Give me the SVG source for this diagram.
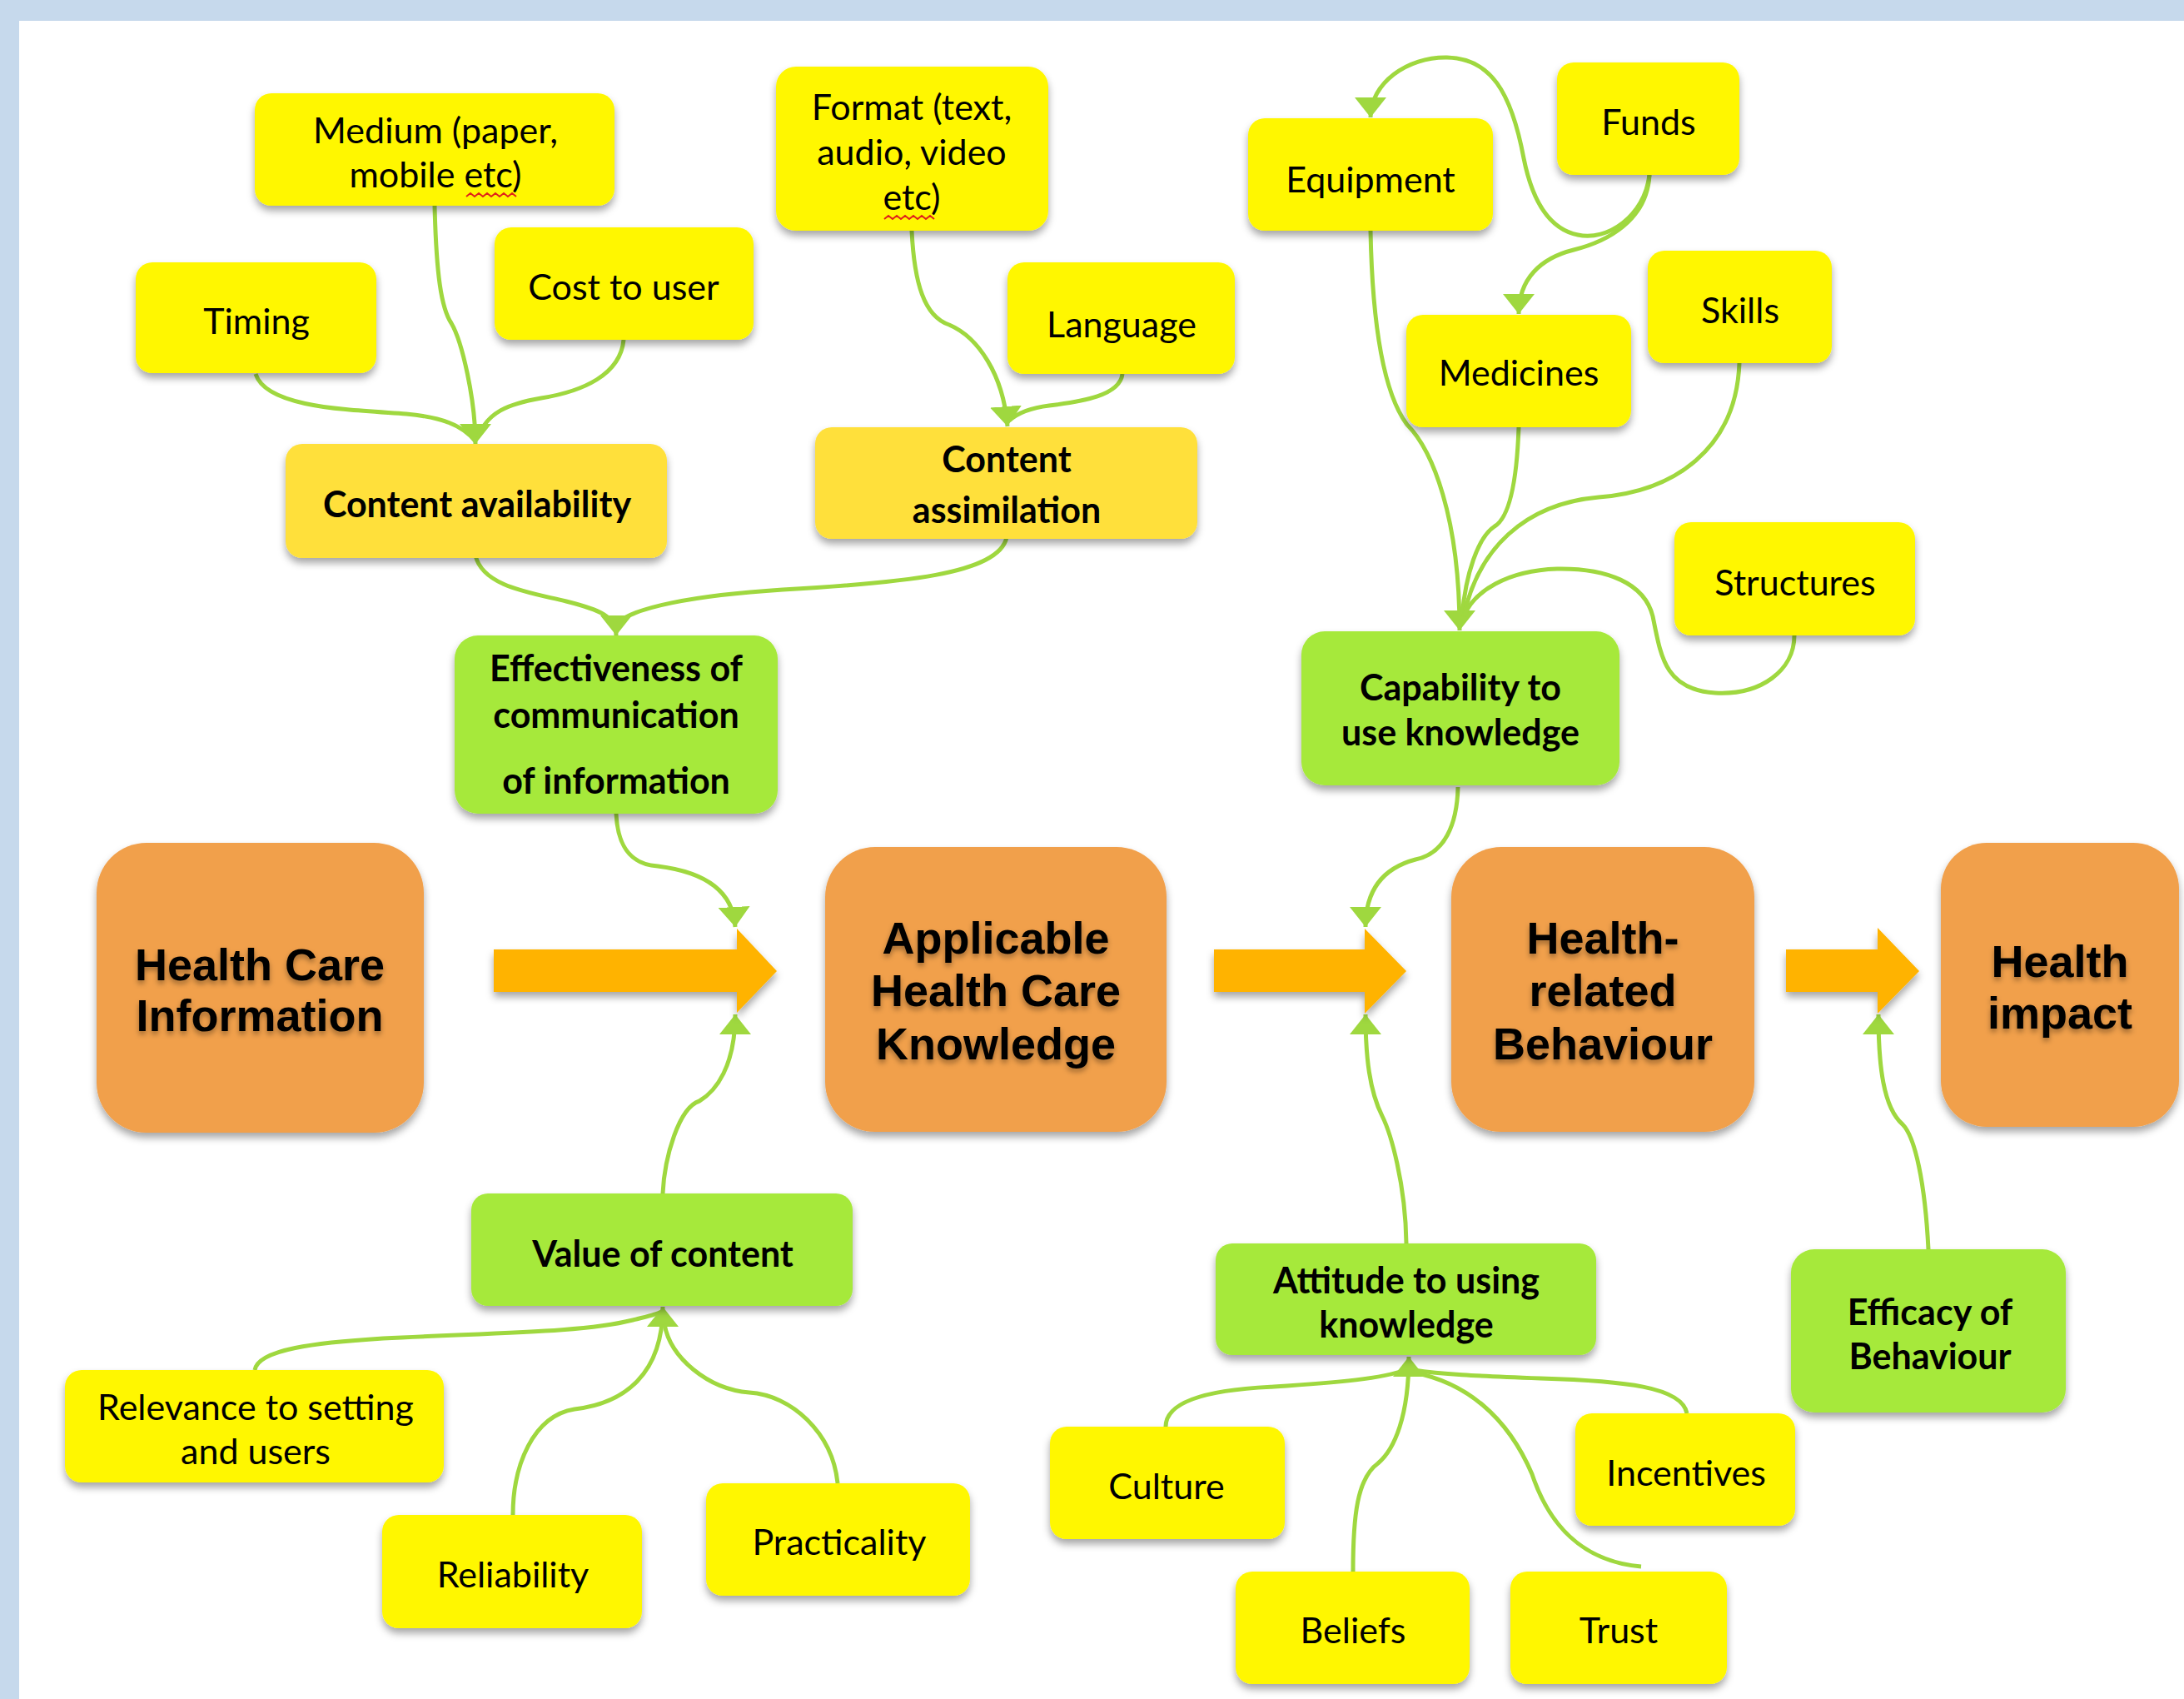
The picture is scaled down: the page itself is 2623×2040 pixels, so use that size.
<svg xmlns="http://www.w3.org/2000/svg" width="2623" height="2040" viewBox="0 0 2623 2040">
<defs>
<style>
.y{fill:#fff700}
.dy{fill:#ffe03a}
.g{fill:#a6e93b}
.o{fill:#f1a04c}
.box{filter:url(#sh)}
.t{font-family:Lato,"Liberation Sans",sans-serif;font-size:43px;fill:#000;text-anchor:middle}
.tb{font-family:Lato,"Liberation Sans",sans-serif;font-size:43px;font-weight:bold;fill:#000;text-anchor:middle}
.big{font-family:"Liberation Sans",Arial,sans-serif;font-size:54px;font-weight:bold;fill:#000;text-anchor:middle;filter:url(#tsh)}
.c{fill:none;stroke:#9fd83f;stroke-width:5;stroke-linecap:butt}
.arr{fill:#ffb300;filter:url(#sh)}
.sq{fill:none;stroke:#e0201a;stroke-width:2}
</style>
<filter id="sh" x="-20%" y="-20%" width="140%" height="150%">
<feDropShadow dx="0" dy="6" stdDeviation="5" flood-color="#000" flood-opacity="0.35"/>
</filter>
<filter id="tsh" x="-10%" y="-20%" width="120%" height="160%">
<feDropShadow dx="0" dy="4" stdDeviation="3" flood-color="#000" flood-opacity="0.35"/>
</filter>
<marker id="ah" viewBox="0 0 24 38" refX="24" refY="19" markerWidth="24" markerHeight="38" markerUnits="userSpaceOnUse" orient="auto">
<path d="M0,0 L24,19 L0,38 z" fill="#9fd83f"/>
</marker>
</defs>

<rect x="0" y="0" width="2623" height="2040" fill="#c6d9ec"/>
<rect x="23" y="25" width="2600" height="2015" fill="#ffffff"/>

<g id="connectors">
<path class="c" d="M307,449 C320,490 420,492 488,497 C530,501 555,510 571,530"/>
<path class="c" d="M522,247 C524,330 530,370 542,388 C555,410 571,480 571,533" marker-end="url(#ah)"/>
<path class="c" d="M749,408 C745,450 700,470 650,478 C610,485 585,495 574,525"/>
<path class="c" d="M1095,277 C1098,340 1110,380 1140,390 C1175,405 1205,450 1210,512" marker-end="url(#ah)"/>
<path class="c" d="M1348,449 C1345,475 1300,482 1260,487 C1235,490 1220,498 1212,505"/>
<path class="c" d="M571,667 C580,705 640,712 680,722 C720,732 740,740 740,763" marker-end="url(#ah)"/>
<path class="c" d="M1209,645 C1200,690 1080,700 940,708 C830,715 760,730 742,748"/>
<path class="c" d="M740,977 C742,1020 760,1038 790,1040 C830,1045 880,1060 883,1113" marker-end="url(#ah)"/>
<path class="c" d="M796,1433 C798,1390 815,1330 840,1322 C860,1310 883,1280 883,1218" marker-end="url(#ah)"/>
<path class="c" d="M1751,945 C1750,990 1735,1025 1700,1032 C1670,1040 1640,1060 1640,1113" marker-end="url(#ah)"/>
<path class="c" d="M1689,1493 C1688,1420 1670,1360 1660,1340 C1645,1310 1640,1270 1640,1218" marker-end="url(#ah)"/>
<path class="c" d="M2316,1500 C2312,1420 2300,1365 2285,1350 C2262,1330 2256,1280 2256,1218" marker-end="url(#ah)"/>
<path class="c" d="M1646,277 C1648,380 1660,470 1690,510 C1720,540 1753,620 1753,757" marker-end="url(#ah)"/>
<path class="c" d="M1824,513 C1822,570 1815,620 1795,632 C1775,645 1760,690 1756,740"/>
<path class="c" d="M2089,436 C2085,540 2010,590 1920,597 C1830,605 1775,660 1758,740"/>
<path class="c" d="M2155,763 C2155,805 2115,835 2060,832 C2000,828 1995,790 1985,740 C1975,700 1930,682 1870,683 C1810,685 1770,710 1758,740"/>
<path class="c" d="M1981,210 C1975,260 1930,290 1895,282 C1860,275 1840,240 1830,190 C1815,110 1790,70 1738,69 C1690,68 1646,100 1646,141" marker-end="url(#ah)"/>
<path class="c" d="M1981,210 C1978,265 1930,290 1890,300 C1850,310 1824,335 1824,377" marker-end="url(#ah)"/>
<path class="c" d="M306,1645 C310,1620 380,1612 460,1607 C600,1600 700,1600 760,1585 C780,1580 790,1578 794,1575"/>
<path class="c" d="M616,1819 C616,1760 640,1700 690,1692 C750,1685 796,1650 796,1569" marker-end="url(#ah)"/>
<path class="c" d="M1006,1781 C1000,1720 950,1675 900,1672 C850,1668 805,1630 798,1590"/>
<path class="c" d="M1400,1713 C1400,1680 1460,1668 1530,1665 C1610,1660 1660,1655 1688,1645"/>
<path class="c" d="M1625,1887 C1625,1820 1630,1775 1655,1757 C1675,1740 1692,1700 1692,1629" marker-end="url(#ah)"/>
<path class="c" d="M1971,1881 C1900,1875 1860,1830 1840,1770 C1810,1700 1760,1660 1698,1648"/>
<path class="c" d="M2026,1697 C2020,1665 1950,1658 1850,1655 C1770,1652 1730,1650 1698,1645"/>
</g>

<g id="flow-arrows">
<polygon class="arr" points="593,1140 885,1140 885,1115 933,1166 885,1216 885,1191 593,1191"/>
<polygon class="arr" points="1458,1140 1639,1140 1639,1115 1689,1166 1639,1217 1639,1191 1458,1191"/>
<polygon class="arr" points="2145,1140 2255,1140 2255,1114 2305,1166 2255,1217 2255,1191 2145,1191"/>
</g>

<g id="n-medium"><rect class="y box" x="306" y="112" width="432" height="135" rx="20"/>
<text class="t" x="523" y="172">Medium (paper,</text><text class="t" x="523" y="225">mobile etc)</text>
<path class="sq" d="M560,236 l5,-4 l5,4 l5,-4 l5,4 l5,-4 l5,4 l5,-4 l5,4 l5,-4 l5,4 l5,-4 l5,4"/></g>
<g id="n-timing"><rect class="y box" x="163" y="315" width="289" height="133" rx="20"/>
<text class="t" x="308" y="401">Timing</text></g>
<g id="n-cost"><rect class="y box" x="594" y="273" width="311" height="135" rx="20"/>
<text class="t" x="749" y="360">Cost to user</text></g>
<g id="n-content-availability"><rect class="dy box" x="343" y="533" width="458" height="137" rx="20"/>
<text class="tb" x="573" y="621">Content availability</text></g>
<g id="n-format"><rect class="y box" x="932" y="80" width="327" height="197" rx="24"/>
<text class="t" x="1095" y="144">Format (text,</text><text class="t" x="1095" y="198">audio, video</text><text class="t" x="1095" y="252">etc)</text>
<path class="sq" d="M1062,263 l5,-4 l5,4 l5,-4 l5,4 l5,-4 l5,4 l5,-4 l5,4 l5,-4 l5,4 l5,-4 l5,4"/></g>
<g id="n-language"><rect class="y box" x="1210" y="315" width="273" height="134" rx="20"/>
<text class="t" x="1347" y="405">Language</text></g>
<g id="n-content-assimilation"><rect class="dy box" x="979" y="513" width="459" height="134" rx="20"/>
<text class="tb" x="1209" y="567">Content</text><text class="tb" x="1209" y="628">assimilation</text></g>
<g id="n-effectiveness"><rect class="g box" x="546" y="763" width="388" height="214" rx="28"/>
<text class="tb" x="740" y="818">Effectiveness of</text><text class="tb" x="740" y="874">communication</text><text class="tb" x="740" y="953">of information</text></g>

<g id="n-equipment"><rect class="y box" x="1499" y="142" width="294" height="135" rx="20"/>
<text class="t" x="1646" y="231">Equipment</text></g>
<g id="n-funds"><rect class="y box" x="1870" y="75" width="219" height="135" rx="20"/>
<text class="t" x="1980" y="162">Funds</text></g>
<g id="n-medicines"><rect class="y box" x="1689" y="378" width="270" height="135" rx="20"/>
<text class="t" x="1824" y="463">Medicines</text></g>
<g id="n-skills"><rect class="y box" x="1979" y="301" width="221" height="135" rx="20"/>
<text class="t" x="2090" y="388">Skills</text></g>
<g id="n-structures"><rect class="y box" x="2011" y="627" width="289" height="136" rx="20"/>
<text class="t" x="2156" y="715">Structures</text></g>
<g id="n-capability"><rect class="g box" x="1563" y="758" width="382" height="185" rx="28"/>
<text class="tb" x="1754" y="841">Capability to</text><text class="tb" x="1754" y="895">use knowledge</text></g>

<g id="n-health-care-information"><rect class="o box" x="116" y="1012" width="393" height="348" rx="60"/>
<text class="big" x="312" y="1177">Health Care</text><text class="big" x="312" y="1238">Information</text></g>
<g id="n-applicable-knowledge"><rect class="o box" x="991" y="1017" width="410" height="342" rx="60"/>
<text class="big" x="1196" y="1145">Applicable</text><text class="big" x="1196" y="1208">Health Care</text><text class="big" x="1196" y="1272">Knowledge</text></g>
<g id="n-health-related-behaviour"><rect class="o box" x="1743" y="1017" width="364" height="342" rx="60"/>
<text class="big" x="1925" y="1145">Health-</text><text class="big" x="1925" y="1208">related</text><text class="big" x="1925" y="1272">Behaviour</text></g>
<g id="n-health-impact"><rect class="o box" x="2331" y="1012" width="286" height="341" rx="55"/>
<text class="big" x="2474" y="1173">Health</text><text class="big" x="2474" y="1235">impact</text></g>

<g id="n-value-of-content"><rect class="g box" x="566" y="1433" width="458" height="135" rx="20"/>
<text class="tb" x="796" y="1521">Value of content</text></g>
<g id="n-relevance"><rect class="y box" x="78" y="1645" width="455" height="135" rx="20"/>
<text class="t" x="307" y="1705">Relevance to setting</text><text class="t" x="307" y="1758">and users</text></g>
<g id="n-reliability"><rect class="y box" x="459" y="1819" width="312" height="136" rx="20"/>
<text class="t" x="616" y="1906">Reliability</text></g>
<g id="n-practicality"><rect class="y box" x="848" y="1781" width="317" height="135" rx="20"/>
<text class="t" x="1008" y="1867">Practicality</text></g>

<g id="n-attitude"><rect class="g box" x="1460" y="1493" width="457" height="134" rx="20"/>
<text class="tb" x="1689" y="1553">Attitude to using</text><text class="tb" x="1689" y="1606">knowledge</text></g>
<g id="n-efficacy"><rect class="g box" x="2151" y="1500" width="330" height="196" rx="28"/>
<text class="tb" x="2318" y="1591">Efficacy of</text><text class="tb" x="2318" y="1644">Behaviour</text></g>
<g id="n-culture"><rect class="y box" x="1261" y="1713" width="282" height="135" rx="20"/>
<text class="t" x="1401" y="1800">Culture</text></g>
<g id="n-incentives"><rect class="y box" x="1892" y="1697" width="264" height="135" rx="20"/>
<text class="t" x="2025" y="1784">Incentives</text></g>
<g id="n-beliefs"><rect class="y box" x="1484" y="1887" width="281" height="135" rx="20"/>
<text class="t" x="1625" y="1973">Beliefs</text></g>
<g id="n-trust"><rect class="y box" x="1814" y="1887" width="260" height="135" rx="20"/>
<text class="t" x="1944" y="1973">Trust</text></g>
</svg>
